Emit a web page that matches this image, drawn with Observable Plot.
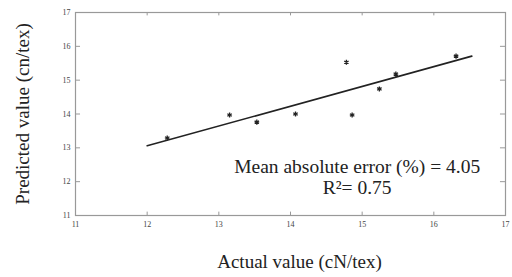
<!DOCTYPE html>
<html>
<head>
<meta charset="utf-8">
<script src="https://cdn.jsdelivr.net/npm/d3@7"></script>
<script src="https://cdn.jsdelivr.net/npm/@observablehq/plot@0.6"></script>
<style>
  html, body { margin: 0; padding: 0; background: #fff; }
  #chart svg { display: block; }
</style>
</head>
<body>
<div id="chart"></div>
<script>
const actual    = [12.28, 13.15, 13.53, 14.07, 14.78, 14.86, 15.24, 15.47, 16.31];
const predicted = [13.29, 13.97, 13.76, 14.00, 15.53, 13.97, 14.74, 15.18, 15.71];
const fitX = [12.0, 16.53];
const fitY = [13.06, 15.71];
const xTicks = [11, 12, 13, 14, 15, 16, 17];
const yTicks = [11, 12, 13, 14, 15, 16, 17];
const annotation1 = "Mean absolute error (%) = 4.05";
const annotation2 = "R²= 0.75";

const points = actual.map((a, i) => ({a, p: predicted[i]}));
const fit = fitX.map((x, i) => ({x, y: fitY[i]}));

const serif = "'Liberation Serif', 'DejaVu Serif', serif";

const chart = Plot.plot({
  width: 512,
  height: 277,
  marginLeft: 75,
  marginRight: 7,
  marginTop: 12,
  marginBottom: 62,
  style: {fontFamily: serif, background: "#fff"},
  x: {domain: [11, 17], ticks: xTicks},
  y: {domain: [11, 17], ticks: yTicks},
  marks: [
    Plot.frame({stroke: "#999", strokeWidth: 1.2}),
    // inward ticks on all four sides
    Plot.ruleX(xTicks, {y1: 11, y2: 11.1, stroke: "#999"}),
    Plot.ruleX(xTicks, {y1: 17, y2: 16.9, stroke: "#999"}),
    Plot.ruleY(yTicks, {x1: 11, x2: 11.07, stroke: "#999"}),
    Plot.ruleY(yTicks, {x1: 17, x2: 16.93, stroke: "#999"}),
    Plot.axisX({ticks: xTicks, tickFormat: "d", tickSize: 0, tickPadding: 6, fontSize: 8, fill: "#444", label: null}),
    Plot.axisY({ticks: yTicks, tickFormat: "d", tickSize: 0, tickPadding: 5, fontSize: 8, fill: "#444", label: null}),
    Plot.line(fit, {x: "x", y: "y", stroke: "#222", strokeWidth: 1.6}),
    Plot.dot(points, {x: "a", y: "p", symbol: "asterisk", r: 2.4, stroke: "#222", strokeWidth: 1.3}),
    Plot.text([annotation1], {x: 14.93, y: 12.44, text: d => d, fontSize: 19.5, fill: "#222"}),
    Plot.text([annotation2], {x: 14.93, y: 11.82, text: d => d, fontSize: 19.5, fill: "#222"}),
    Plot.text(["Actual value (cN/tex)"], {frameAnchor: "bottom", dx: 9, dy: 52, text: d => d, fontSize: 19, fill: "#222"}),
    Plot.text(["Predicted value (cn/tex)"], {frameAnchor: "left", dx: -53, rotate: -90, textAnchor: "middle", text: d => d, fontSize: 19, fill: "#222"})
  ]
});
document.getElementById("chart").append(chart);
</script>
</body>
</html>
